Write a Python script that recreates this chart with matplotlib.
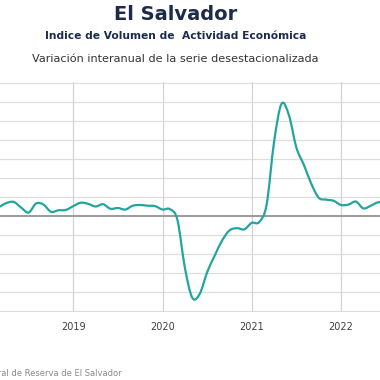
import numpy as np
import matplotlib
matplotlib.use('Agg')
import matplotlib.pyplot as plt
from matplotlib.path import Path
from matplotlib.patches import PathPatch

# IVAE El Salvador, variacion interanual (%), serie desestacionalizada
# mensual desde febrero 2018 hasta julio 2022
first_year, first_month = 2018, 2
variacion = [
    2.0, 2.4, 3.4, 3.7, 2.2, 0.9, 3.3, 3.0, 1.1, 1.5, 1.6,        # 2018 feb-dic
    2.6, 3.5, 3.2, 2.5, 3.1, 1.9, 2.1, 1.7, 2.7, 2.9, 2.7, 2.6,   # 2019
    1.7, 1.8, -1.0, -13.5, -21.5, -20.5, -14.8, -10.5, -6.5, -3.8, -3.2, -3.5,  # 2020
    -1.8, -1.6, 3.0, 19.5, 29.5, 26.5, 18.0, 13.5, 8.5, 4.8, 4.3, 4.0,          # 2021
    2.9, 3.0, 3.8, 2.0, 2.7, 3.6, 3.3,                            # 2022 ene-jul
]
years = [2019, 2020, 2021, 2022]
year_labels = ['2019', '2020', '2021', '2022']
y_grid = list(range(-25, 40, 5))

navy = '#1c2b4b'
teal = '#22a59d'

x = first_year + (first_month - 1) / 12 + np.arange(len(variacion)) / 12
y = np.array(variacion)

fig = plt.figure(figsize=(3.8, 3.8), dpi=100)
ax = fig.add_axes([0, 0.1795, 1, 0.6042])

ax.set_xlim(2018.179, 2022.437)
ax.set_ylim(-25.2, 35.2)

for g in y_grid:
    if g == 0:
        ax.axhline(0, color='#9a9a9a', lw=1.4, zorder=1)
    else:
        ax.axhline(g, color='#dedede', lw=0.9, zorder=0)
for yr in years:
    ax.axvline(yr, color='#d4d4d4', lw=0.9, zorder=0)

# smooth line (bezier segments through the monthly points)
pts = np.column_stack([x, y])
verts = [pts[0]]
codes = [Path.MOVETO]
n = len(pts)
for i in range(n - 1):
    p0 = pts[i - 1] if i > 0 else pts[i]
    p1 = pts[i]
    p2 = pts[i + 1]
    p3 = pts[i + 2] if i + 2 < n else pts[i + 1]
    c1 = p1 + (p2 - p0) / 6
    c2 = p2 - (p3 - p1) / 6
    verts += [c1, c2, p2]
    codes += [Path.CURVE4] * 3
ax.add_patch(PathPatch(Path(verts, codes), facecolor='none', edgecolor=teal,
                       lw=1.6, zorder=3, capstyle='round', joinstyle='round'))

ax.set_xticks(years)
ax.set_xticklabels(year_labels)
ax.set_yticks([])
ax.tick_params(axis='x', length=0, pad=7, labelsize=7, labelcolor='#404040')
for s in ax.spines.values():
    s.set_visible(False)

fig.text(0.463, 0.963, 'El Salvador', ha='center', va='center',
         fontsize=14, fontweight='bold', color=navy)
fig.text(0.463, 0.905, 'Indice de Volumen de  Actividad Económica', ha='center',
         va='center', fontsize=7.7, fontweight='bold', color=navy)
fig.text(0.461, 0.845, 'Variación interanual de la serie desestacionalizada',
         ha='center', va='center', fontsize=8.1, color='#333333')
fig.text(0.321, 0.016, 'Fuente: Banco Central de Reserva de El Salvador',
         ha='right', va='center', fontsize=6, color='#8a8a8a')

fig.savefig('out.png', dpi=100)
